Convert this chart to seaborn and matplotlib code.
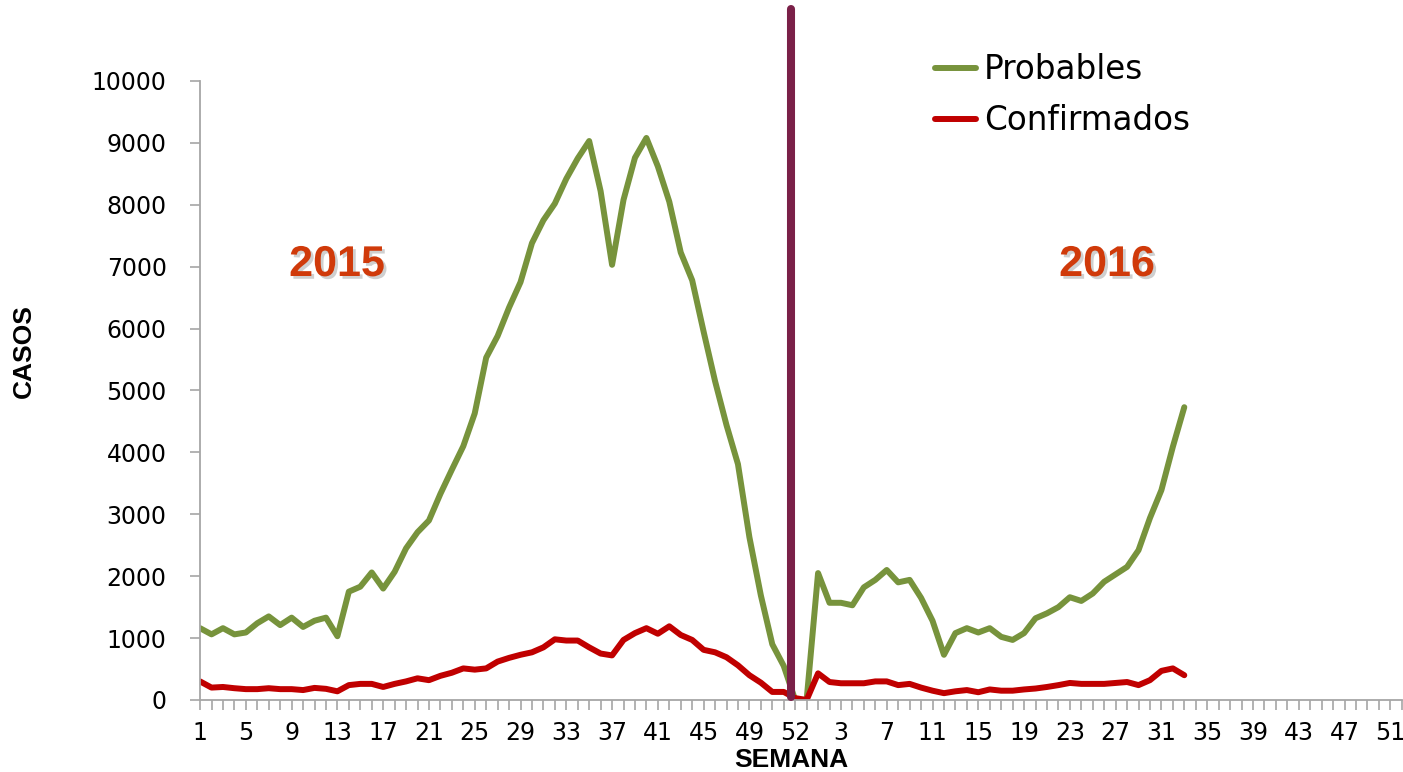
import numpy as np
import pandas as pd
import seaborn as sns
import matplotlib.pyplot as plt
import matplotlib.patheffects as pe

# Casos por semana epidemiologica (2015 incluye dos semanas de corte al final)
probables_2015 = [1160, 1060, 1160, 1060, 1090, 1240, 1350, 1210, 1330, 1180,
                  1280, 1330, 1030, 1750, 1830, 2060, 1800, 2070, 2450, 2710,
                  2900, 3330, 3720, 4100, 4630, 5530, 5880, 6340, 6750, 7380,
                  7750, 8020, 8420, 8750, 9030, 8220, 7030, 8080, 8760, 9080,
                  8620, 8050, 7230, 6780, 5950, 5150, 4440, 3810, 2630, 1690,
                  900, 550, 0, 0]
confirmados_2015 = [300, 200, 210, 190, 175, 175, 190, 175, 175, 160,
                    195, 180, 140, 240, 260, 260, 210, 260, 300, 350,
                    320, 390, 440, 510, 490, 510, 620, 680, 730, 770,
                    850, 980, 960, 960, 850, 750, 720, 970, 1080, 1160,
                    1070, 1190, 1050, 970, 810, 770, 690, 560, 400, 280,
                    130, 130, 30, 0]
probables_2016 = [2050, 1570, 1570, 1530, 1820, 1940, 2100, 1900, 1940, 1650,
                  1280, 730, 1080, 1160, 1090, 1160, 1020, 970, 1080, 1320,
                  1400, 1500, 1660, 1600, 1720, 1910, 2030, 2150, 2420, 2940,
                  3390, 4090, 4730]
confirmados_2016 = [430, 290, 270, 270, 270, 300, 300, 240, 260, 200,
                    150, 110, 140, 160, 125, 170, 150, 150, 170, 185,
                    210, 240, 275, 260, 260, 260, 275, 290, 240, 320,
                    470, 510, 400]
semanas_2016 = 52
tick_labels = ["1", "5", "9", "13", "17", "21", "25", "29", "33", "37", "41",
               "45", "49", "52", "3", "7", "11", "15", "19", "23", "27", "31",
               "35", "39", "43", "47", "51"]

n15 = len(probables_2015)
x15 = np.arange(n15)
x16 = n15 + np.arange(len(probables_2016))

df = pd.concat([
    pd.DataFrame({"x": np.concatenate([x15, x16]),
                  "casos": probables_2015 + probables_2016,
                  "serie": "Probables"}),
    pd.DataFrame({"x": np.concatenate([x15, x16]),
                  "casos": confirmados_2015 + confirmados_2016,
                  "serie": "Confirmados"}),
])

sns.set_style("white")
plt.rcParams["font.family"] = ["DejaVu Sans"]
plt.rcParams["text.color"] = "black"

fig = plt.figure(figsize=(14.03, 7.72), dpi=100)
ax = fig.add_axes([0.1426, 0.0933, 0.8565, 0.8018])

colores = {"Probables": "#77933C", "Confirmados": "#C00000"}
sns.lineplot(data=df, x="x", y="casos", hue="serie", palette=colores,
             linewidth=4.3, ax=ax, solid_joinstyle="round",
             solid_capstyle="round")

n_total = n15 + semanas_2016
ax.set_xlim(0, n_total - 1)
ax.set_ylim(0, 10000)

# linea divisoria entre años
ax.axvline(51.6, ymin=0.005, ymax=1.116, color="#7A2048", linewidth=5.8,
           clip_on=False, zorder=5)

for s in ["top", "right"]:
    ax.spines[s].set_visible(False)
for s in ["left", "bottom"]:
    ax.spines[s].set_color("#A6A6A6")
    ax.spines[s].set_linewidth(1.3)

ax.set_yticks(np.arange(0, 10001, 1000))
ax.set_yticklabels([str(v) for v in range(0, 10001, 1000)], fontsize=17)
ax.tick_params(axis="y", direction="out", length=7, width=1.2,
               color="#A6A6A6", labelcolor="black", pad=17, left=True)

ax.set_xticks(np.arange(0, n_total, 4))
ax.set_xticklabels(tick_labels, fontsize=17)
ax.set_xticks(np.arange(0, n_total), minor=True)
ax.tick_params(axis="x", which="both", direction="out", length=7, width=1.2,
               color="#A6A6A6", labelcolor="black", pad=8, bottom=True)

ax.set_xlabel("")
ax.set_ylabel("")
fig.text(791 / 1403, 1 - 760 / 772, "SEMANA", ha="center", va="center",
         fontsize=19, fontweight="bold", family=["Liberation Sans", "DejaVu Sans"])
fig.text(24 / 1403, 1 - 351 / 772, "CASOS", ha="center", va="center",
         rotation=90, fontsize=19, fontweight="bold",
         family=["Liberation Sans", "DejaVu Sans"])

sombra = [pe.withSimplePatchShadow(offset=(2, -2), shadow_rgbFace="#A0A0A0",
                                   alpha=0.5)]
for texto, xf in [("2015", 337), ("2016", 1107)]:
    fig.text(xf / 1403, 1 - 265 / 772, texto, ha="center", va="center",
             fontsize=31, fontweight="bold", color="#D03A0A",
             family=["Liberation Sans", "DejaVu Sans"],
             path_effects=sombra)

handles, labels = ax.get_legend_handles_labels()
ax.legend(handles, labels, loc="upper left", bbox_to_anchor=(935 / 1403, 1 - 53 / 772),
          bbox_transform=fig.transFigure, frameon=False, fontsize=23.5,
          handlelength=1.25, handletextpad=0.25, labelspacing=0.55,
          borderpad=0, borderaxespad=0)

fig.savefig("out.png", dpi=100)
